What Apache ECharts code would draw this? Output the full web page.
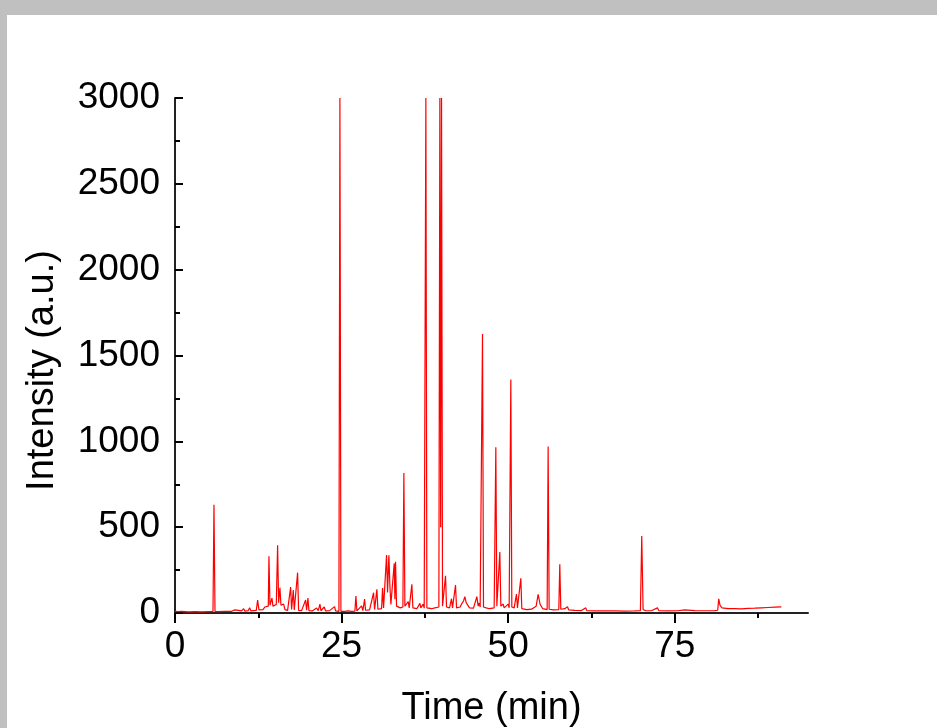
<!DOCTYPE html>
<html>
<head>
<meta charset="utf-8">
<script src="https://cdn.jsdelivr.net/npm/echarts@6/dist/echarts.min.js"></script>
<style>
  html, body { margin: 0; padding: 0; background: #c0c0c0; }
  #chart { position: absolute; left: 7px; top: 15px; width: 930px; height: 713px; background: #fff; }
</style>
</head>
<body>
<div id="chart"></div>
<script>
// retention time (min) and detector intensity
const timeMin = [
  0.0, 0.5, 1.0, 2.0, 3.0, 4.0, 5.0, 5.7, 5.85, 6.0,
  6.5, 7.5, 8.5, 9.0, 9.2, 10.0, 10.3, 10.5, 11.0, 11.2,
  11.4, 12.2, 12.4, 12.6, 13.2, 13.5, 13.7, 14.0, 14.1, 14.25,
  14.55, 14.7, 15.2, 15.4, 15.55, 15.75, 15.9, 16.3, 16.5, 16.9,
  17.35, 17.5, 17.75, 17.9, 18.2, 18.4, 18.55, 19.0, 19.6, 19.75,
  19.95, 20.1, 20.6, 21.25, 21.5, 21.75, 21.9, 22.4, 22.6, 23.2,
  23.95, 24.1, 24.6, 24.75, 24.9, 25.5, 26.0, 26.5, 27.0, 27.15,
  27.3, 28.0, 28.2, 28.45, 28.6, 29.2, 29.8, 29.95, 30.3, 30.45,
  31.0, 31.15, 31.3, 31.6, 31.75, 31.9, 32.1, 32.25, 32.4, 32.7,
  32.9, 33.0, 33.1, 33.25, 33.8, 34.2, 34.35, 34.5, 35.0, 35.15,
  35.55, 35.7, 36.3, 36.75, 36.9, 37.25, 37.4, 37.55, 37.65, 37.8,
  38.5, 39.0, 39.6, 39.75, 39.87, 40.0, 40.15, 40.6, 40.75, 41.2,
  41.5, 41.65, 42.1, 42.25, 42.8, 43.0, 43.3, 43.5, 43.7, 44.2,
  44.8, 45.3, 45.5, 45.65, 45.8, 46.0, 46.15, 46.3, 46.7, 47.0,
  47.2, 47.9, 48.15, 48.3, 48.5, 48.75, 48.9, 49.25, 49.4, 50.0,
  50.15, 50.28, 50.4, 50.55, 50.9, 51.25, 51.4, 51.9, 52.05, 52.8,
  53.5, 54.2, 54.5, 54.8, 55.2, 55.85, 56.0, 56.15, 56.8, 57.6,
  57.75, 57.9, 58.5, 58.9, 59.1, 60.0, 61.0, 61.65, 61.8, 63.0,
  64.5, 66.0, 67.5, 69.0, 69.85, 70.05, 70.25, 70.6, 71.5, 72.4,
  72.6, 74.0, 75.5, 76.5, 76.7, 78.0, 79.5, 81.0, 81.45, 81.6,
  81.8, 82.1, 83.0, 84.0, 85.0, 86.0, 87.0, 88.0, 89.0, 90.0,
  91.0
];
const intensity = [
  10, 8, 9, 7, 8, 7, 8, 8, 630, 9,
  8, 9, 10, 18, 10, 12, 25, 11, 14, 30,
  12, 15, 75, 18, 20, 35, 25, 40, 330, 45,
  87, 40, 50, 394, 60, 147, 45, 52, 20, 15,
  151, 20, 134, 18, 20, 235, 15, 14, 76, 16,
  87, 14, 12, 29, 14, 52, 13, 35, 12, 14,
  37, 12, 10, 3000, 10, 9, 12, 10, 11, 99,
  12, 41, 14, 81, 16, 18, 118, 20, 138, 22,
  25, 146, 30, 40, 338, 120, 336, 157, 50, 40,
  289, 80, 299, 40, 30, 35, 815, 40, 66, 30,
  167, 30, 25, 56, 30, 52, 28, 30, 3000, 30,
  25, 30, 35, 3000, 500, 3000, 40, 217, 35, 30,
  83, 30, 163, 30, 35, 52, 70, 95, 60, 30,
  28, 95, 40, 58, 35, 30, 1625, 35, 30, 35,
  25, 30, 965, 40, 50, 355, 40, 52, 30, 52,
  30, 40, 1360, 35, 30, 110, 30, 202, 25, 20,
  22, 40, 109, 50, 25, 20, 970, 22, 18, 20,
  284, 22, 25, 37, 18, 15, 14, 30, 14, 12,
  13, 12, 11, 12, 14, 448, 20, 14, 13, 30,
  14, 12, 13, 18, 12, 14, 13, 14, 16, 82,
  45, 30, 25, 26, 24, 27, 28, 30, 32, 34,
  36
];
const xMajorTicks = [0, 25, 50, 75];
const xMinorTicks = [12.5, 37.5, 62.5, 87.5];

const font = '"Liberation Sans", Arial, sans-serif';
const chart = echarts.init(document.getElementById('chart'));

const option = {
  animation: false,
  backgroundColor: '#fff',
  grid: { left: 168, right: 129, top: 83, bottom: 115, containLabel: false, outerBoundsMode: 'none' },
  xAxis: [
    {
      type: 'value',
      min: 0,
      max: 95,
      name: 'Time (min)',
      nameLocation: 'middle',
      nameGap: 77,
      nameTextStyle: { fontFamily: font, fontSize: 38, color: '#000' },
      axisLine: { lineStyle: { color: '#222', width: 2 } },
      axisTick: { customValues: xMajorTicks, length: 10, lineStyle: { color: '#000', width: 2 } },
      axisLabel: { customValues: xMajorTicks, margin: 15, fontFamily: font, fontSize: 37, color: '#000' },
      splitLine: { show: false }
    },
    {
      type: 'value',
      min: 0,
      max: 95,
      position: 'bottom',
      axisLine: { show: false },
      axisTick: { customValues: xMinorTicks, length: 5, lineStyle: { color: '#000', width: 2 } },
      axisLabel: { show: false },
      splitLine: { show: false }
    }
  ],
  yAxis: {
    type: 'value',
    min: 0,
    max: 3000,
    interval: 500,
    name: 'Intensity (a.u.)',
    nameLocation: 'middle',
    nameGap: 113,
    nameTextStyle: { fontFamily: font, fontSize: 38, color: '#000', padding: [0, 30, 0, 0] },
    axisLine: { show: true, lineStyle: { color: '#222', width: 2 } },
    axisTick: { show: true, inside: true, length: 8, lineStyle: { color: '#000', width: 2 } },
    minorTick: { show: true, splitNumber: 2, length: 5, lineStyle: { color: '#000', width: 2 } },
    axisLabel: { margin: 15, fontFamily: font, fontSize: 37, color: '#000', formatter: v => String(v) },
    splitLine: { show: false }
  },
  series: [
    {
      type: 'line',
      xAxisIndex: 0,
      data: timeMin.map((t, i) => [t, intensity[i]]),
      showSymbol: false,
      symbol: 'none',
      clip: true,
      lineStyle: { color: '#ff0000', width: 1.2 }
    }
  ]
};

chart.setOption(option);
</script>
</body>
</html>
